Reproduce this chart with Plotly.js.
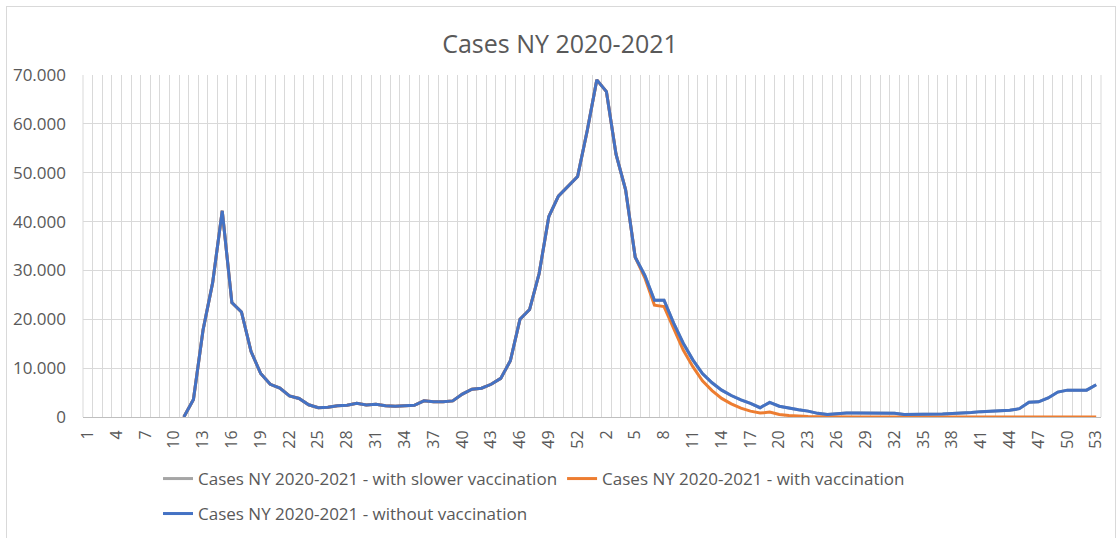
<!DOCTYPE html>
<html>
<head>
<meta charset="utf-8">
<script src="https://cdn.plot.ly/plotly-3.0.1.min.js"></script>
<style>
  html, body { margin: 0; padding: 0; background: #ffffff; }
  #wrap { position: relative; width: 1120px; height: 538px; overflow: hidden; }
  #chart { width: 1120px; height: 538px; }
  #frame { position: absolute; left: 6px; top: 6px; width: 1110px; height: 560px;
           border: 1px solid #d9d9d9; box-sizing: border-box; pointer-events: none; }
</style>
</head>
<body>
<div id="wrap">
  <div id="chart"></div>
  <div id="frame"></div>
</div>
<script>
// Week labels: 2020 weeks 1-53 followed by 2021 weeks 1-53
const weeks2020 = [1,2,3,4,5,6,7,8,9,10,11,12,13,14,15,16,17,18,19,20,21,22,23,24,25,26,27,28,29,30,31,32,33,34,35,36,37,38,39,40,41,42,43,44,45,46,47,48,49,50,51,52,53];
const weeks2021 = [1,2,3,4,5,6,7,8,9,10,11,12,13,14,15,16,17,18,19,20,21,22,23,24,25,26,27,28,29,30,31,32,33,34,35,36,37,38,39,40,41,42,43,44,45,46,47,48,49,50,51,52,53];

const seriesNames = [
  "Cases NY 2020-2021 - with slower vaccination",
  "Cases NY 2020-2021 - with vaccination",
  "Cases NY 2020-2021 - without vaccination"
];

// Cases - without vaccination (106 weeks)
const withoutVaccination = [
  null,null,null,null,null,null,null,null,null,null,
  0,3600,17800,27500,42200,23400,21500,13400,8900,6700,
  5900,4300,3800,2500,1900,2000,2300,2400,2800,2450,
  2600,2300,2200,2300,2400,3300,3100,3100,3300,4700,
  5700,5900,6700,7900,11500,20000,22000,29400,41000,45200,
  47300,49200,58600,69000,66600,53800,46500,32700,29000,23900,
  23900,19200,15100,11700,8900,7000,5500,4400,3500,2800,
  1900,3000,2200,1800,1500,1200,750,500,700,800,
  800,800,800,800,750,500,500,500,550,600,
  700,750,900,1100,1200,1200,1400,1700,3000,3100,
  3900,5100,5500,5500,5500,6600
];

// Cases - with slower vaccination (hidden under the "without" line)
const withSlowerVaccination = [
  null,null,null,null,null,null,null,null,null,null,
  0,3600,17800,27500,42200,23400,21500,13400,8900,6700,
  5900,4300,3800,2500,1900,2000,2300,2400,2800,2450,
  2600,2300,2200,2300,2400,3300,3100,3100,3300,4700,
  5700,5900,6700,7900,11500,20000,22000,29400,41000,45200,
  47300,49200,58600,69000,66600,53800,46500,32700,29000,23900,
  23900,19200,15100,11700,8900,7000,5500,4400,3500,2800,
  1900,3000,2200,1800,1500,1200,750,500,700,800,
  800,800,800,800,750,500,500,500,550,600,
  700,750,900,1100,1200,1200,1400,1700,3000,3100,
  3900,5100,5500,5500,5500,6600
];

// Cases - with vaccination
const withVaccination = [
  null,null,null,null,null,null,null,null,null,null,
  0,3600,17800,27500,42200,23400,21500,13400,8900,6700,
  5900,4300,3800,2500,1900,2000,2300,2400,2800,2450,
  2600,2300,2200,2300,2400,3300,3100,3100,3300,4700,
  5700,5900,6700,7900,11500,20000,22000,29400,41000,45200,
  47300,49200,58600,69000,66600,53800,46500,32700,28500,22900,
  22600,18100,13700,10300,7400,5400,3800,2700,1800,1200,
  800,1000,500,300,150,80,40,0,0,0,
  0,0,0,0,0,0,0,0,0,0,
  0,0,0,0,0,0,0,0,0,0,
  0,0,0,0,0,0
];

const yTicks = [0,10000,20000,30000,40000,50000,60000,70000];

// --- build ---
const weekLabels = weeks2020.concat(weeks2021).map(String);
const xIdx = weekLabels.map((_, i) => i);
const tickIdx = xIdx.filter(i => i % 3 === 0);
const tickText = tickIdx.map(i => weekLabels[i]);

const colors = ["#A5A5A5", "#ED7D31", "#4472C4"];
const legendIds = ["legend", "legend", "legend2"];
const series = [withSlowerVaccination, withVaccination, withoutVaccination];

const traces = series.map((ys, k) => ({
  x: xIdx,
  y: ys,
  type: "scatter",
  mode: "lines",
  name: seriesNames[k],
  legend: legendIds[k],
  line: { color: colors[k], width: 3 },
  connectgaps: false,
  hoverinfo: "x+y+name"
}));

const font = "'Open Sans', 'Noto Sans', sans-serif";
const legendBase = {
  orientation: "h",
  x: 0.0737, xanchor: "left",
  yref: "container",
  yanchor: "top",
  font: { family: font, size: 17, color: "#595959" },
  traceorder: "normal",
  itemwidth: 30,
  bgcolor: "rgba(0,0,0,0)"
};

const layout = {
  width: 1120,
  height: 538,
  paper_bgcolor: "rgba(0,0,0,0)",
  plot_bgcolor: "#ffffff",
  separators: ",.",
  margin: { l: 83, r: 19, t: 75, b: 121, autoexpand: false },
  title: {
    text: "Cases NY 2020-2021",
    font: { family: font, size: 25, color: "#595959" },
    x: 0.5, xanchor: "center",
    y: 0.918, yanchor: "middle"
  },
  xaxis: {
    range: [-0.5, xIdx.length - 0.5],
    automargin: false,
    tickmode: "array",
    tickvals: tickIdx,
    ticktext: tickText,
    tickangle: -90,
    tickfont: { family: font, size: 16, color: "#595959" },
    showgrid: false,
    zeroline: false,
    showline: true,
    linecolor: "#bfbfbf",
    linewidth: 1,
    ticks: "",
    ticklabelstandoff: 6,
    minor: {
      tickmode: "linear",
      tick0: -0.5,
      dtick: 1,
      showgrid: true,
      gridcolor: "#d9d9d9",
      gridwidth: 1,
      ticks: ""
    },
    fixedrange: true
  },
  yaxis: {
    range: [0, 70000],
    automargin: false,
    tickmode: "array",
    tickvals: yTicks,
    tickformat: ",d",
    tickfont: { family: font, size: 17, color: "#595959" },
    showgrid: true,
    gridcolor: "#d9d9d9",
    gridwidth: 1,
    zeroline: false,
    showline: false,
    ticks: "",
    ticklabelstandoff: 16,
    fixedrange: true
  },
  showlegend: true,
  legend: Object.assign({}, legendBase, { y: 0.1431 }),
  legend2: Object.assign({}, legendBase, { y: 0.0781 }),
  shapes: [
    { type: "line", xref: "paper", yref: "paper", x0: 1, x1: 1, y0: 0, y1: 1,
      line: { color: "#d9d9d9", width: 1 }, layer: "below" },
    { type: "line", xref: "paper", yref: "paper", x0: 0, x1: 0, y0: 0, y1: 1,
      line: { color: "#d9d9d9", width: 1 }, layer: "below" }
  ]
};

Plotly.newPlot("chart", traces, layout, { displayModeBar: false, staticPlot: true });
</script>
</body>
</html>
